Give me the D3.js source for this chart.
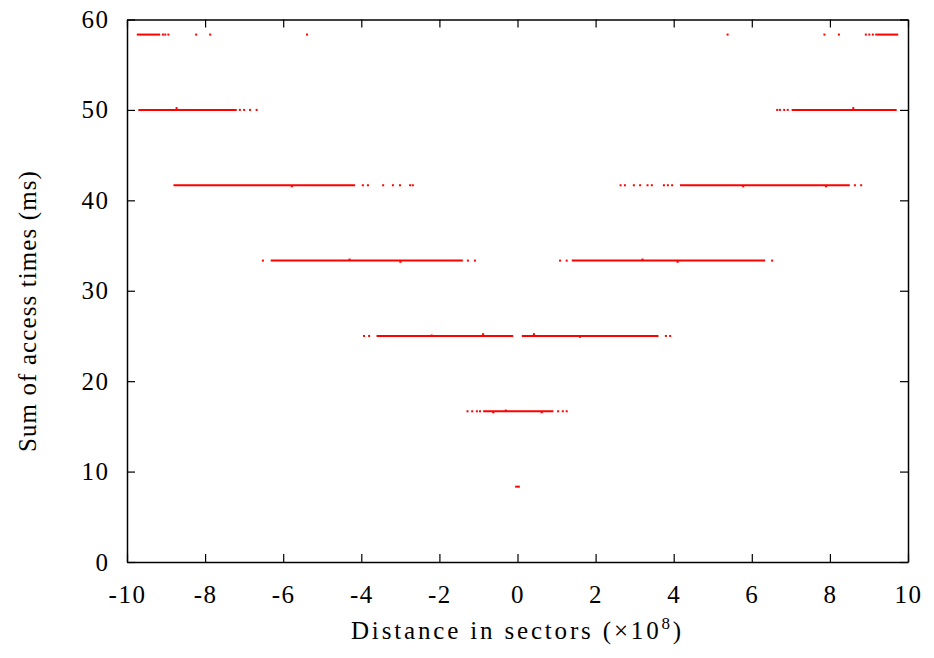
<!DOCTYPE html>
<html lang="en">
  <head>
    <meta charset="utf-8">
    <title>Sum of access times</title>
    <script src="https://cdn.jsdelivr.net/npm/d3@7"></script>
    <style>
      body { margin: 0; background: #fff; }
      svg text { font-family: "Liberation Serif", "Times New Roman", serif; fill: #000; }
    </style>
  </head>
  <body>
    <svg id="chart" width="934" height="658"></svg>
  <script>
  // access time levels (ms) - one band per number of rotations
  var levels = [8.333, 16.667, 25, 33.333, 41.667, 50, 58.333];

  // dense runs of points: [level index, from, to] (x in 1e8 sectors)
  var runs = [
    [0, -0.06, 0.06],
    [1, -0.88, 0.92],
    [2, -3.61, -0.11], [2, 0.11, 3.61],
    [3, -6.32, -1.40], [3, 1.39, 6.34],
    [4, -8.81, -4.16], [4, 4.16, 8.51],
    [5, -9.71, -7.19], [5, 7.02, 9.71],
    [6, -9.75, -9.15], [6, 9.16, 9.75]
  ];

  // scattered single points: [x, access time]
  var dots = [
    // 16.7 ms
    [-1.28, 16.667], [-1.16, 16.667], [-1.04, 16.667], [-0.96, 16.667],
    [1.04, 16.667], [1.16, 16.667], [1.26, 16.667],
    [-0.62, 16.55], [0.62, 16.55], [-0.3, 16.75],
    // 25 ms
    [-3.93, 25], [-3.80, 25], [-2.2, 25.05], [-0.88, 25.2], [0.42, 25.2], [1.6, 24.9],
    [3.80, 25], [3.91, 25],
    // 33.3 ms
    [-6.52, 33.333], [-1.27, 33.333], [-1.09, 33.333],
    [1.09, 33.333], [1.26, 33.333], [6.52, 33.333],
    [-4.3, 33.45], [-3.0, 33.2], [3.2, 33.45], [4.1, 33.2],
    // 41.7 ms
    [-3.96, 41.667], [-3.83, 41.667], [-3.44, 41.667], [-3.19, 41.667],
    [-3.01, 41.667], [-2.75, 41.667], [-2.68, 41.667],
    [2.64, 41.667], [2.75, 41.667], [2.98, 41.667], [3.14, 41.667],
    [3.33, 41.667], [3.44, 41.667], [3.75, 41.667], [3.85, 41.667], [3.96, 41.667],
    [8.64, 41.667], [8.80, 41.667],
    [-5.78, 41.55], [5.78, 41.55], [7.9, 41.55],
    // 50 ms
    [-7.11, 50], [-7.00, 50], [-6.85, 50], [-6.68, 50],
    [6.65, 50], [6.72, 50], [6.83, 50], [6.92, 50],
    [-8.73, 50.2], [8.6, 50.2],
    // 58.3 ms
    [-9.08, 58.333], [-9.02, 58.333], [-8.94, 58.333],
    [-8.23, 58.333], [-7.87, 58.333], [-5.39, 58.333],
    [5.38, 58.333], [7.86, 58.333], [8.23, 58.333],
    [8.92, 58.333], [9.01, 58.333], [9.10, 58.333]
  ];

  var xTicks = [-10, -8, -6, -4, -2, 0, 2, 4, 6, 8, 10];
  var yTicks = [0, 10, 20, 30, 40, 50, 60];

  var svg = d3.select("#chart"),
      margin = {top: 19.5, left: 127, right: 26, bottom: 96},
      width = +svg.attr("width") - margin.left - margin.right,
      height = +svg.attr("height") - margin.top - margin.bottom;

  var g = svg.append("g").attr("transform", `translate(${margin.left},${margin.top})`);

  var x = d3.scaleLinear().domain([-10, 10]).range([0, width]);
  var y = d3.scaleLinear().domain([0, 60]).range([height, 0]);

  // data
  g.selectAll(".run")
    .data(runs)
    .enter().append("line")
      .attr("class", "run")
      .attr("x1", d => x(d[1]))
      .attr("x2", d => x(d[2]))
      .attr("y1", d => y(levels[d[0]]))
      .attr("y2", d => y(levels[d[0]]))
      .attr("stroke", "#ff0000")
      .attr("stroke-width", 2);

  g.selectAll(".dot")
    .data(dots)
    .enter().append("rect")
      .attr("class", "dot")
      .attr("x", d => x(d[0]) - 1)
      .attr("y", d => y(d[1]) - 1)
      .attr("width", 2)
      .attr("height", 2)
      .attr("fill", "#ff0000");

  // axes, gnuplot style: inward ticks mirrored on all sides
  var plain = d => String(d);   // hyphen minus like the original

  g.append("g")
    .attr("transform", `translate(0,${height})`)
    .call(d3.axisBottom(x).tickValues(xTicks).tickSize(-8).tickSizeOuter(0).tickPadding(23).tickFormat(plain));

  g.append("g")
    .call(d3.axisTop(x).tickValues(xTicks).tickSize(-8).tickSizeOuter(0).tickFormat(""));

  g.append("g")
    .attr("class", "y-axis")
    .call(d3.axisLeft(y).tickValues(yTicks).tickSize(-8).tickSizeOuter(0).tickPadding(19).tickFormat(plain));

  g.append("g")
    .attr("transform", `translate(${width},0)`)
    .call(d3.axisRight(y).tickValues(yTicks).tickSize(-8).tickSizeOuter(0).tickFormat(""));

  g.selectAll(".domain").attr("stroke", "#000").attr("stroke-width", 1.5);
  g.selectAll(".tick line").attr("stroke", "#000").attr("stroke-width", 1.2);
  g.selectAll(".tick text")
    .attr("font-family", null)
    .attr("font-size", 25)
    .attr("fill", "#000")
    .style("letter-spacing", "1.5px");
  g.selectAll(".y-axis .tick text").attr("dx", 1.5);

  // axis titles (widened to the width of the original TeX lettering)
  var xLabel = svg.append("text")
    .attr("x", margin.left + width / 2)
    .attr("y", 639)
    .attr("text-anchor", "middle")
    .style("font-size", "25px")
    .text("Distance in sectors (×10");
  xLabel.append("tspan")
    .attr("dy", -10)
    .style("font-size", "17px")
    .text("8");
  xLabel.append("tspan")
    .attr("dy", 10)
    .text(")");

  var yLabel = svg.append("text")
    .attr("transform", "rotate(-90)")
    .attr("x", -311)
    .attr("y", 36)
    .attr("text-anchor", "middle")
    .style("font-size", "25px")
    .text("Sum of access times (ms)");

  function widen(sel, target) {
    var n = sel.text().length;
    var len = sel.node().getComputedTextLength();
    sel.style("letter-spacing", ((target - len) / n) + "px");
  }
  widen(xLabel, 333);
  widen(yLabel, 282);
  </script>
  </body>
</html>
